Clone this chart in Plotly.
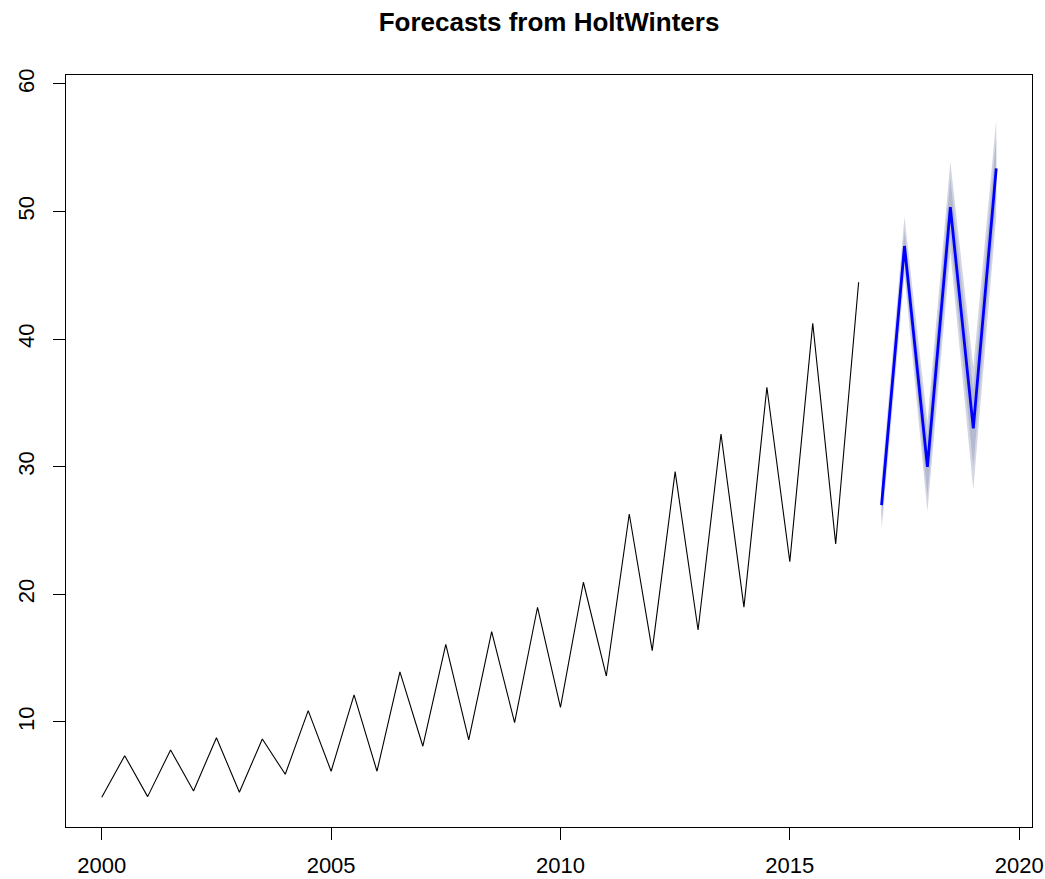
import plotly.graph_objects as go

# Observed semi-annual series 2000.0 .. 2016.5
obs_t = [2000 + 0.5 * i for i in range(34)]
obs_v = [4.10, 7.36, 4.15, 7.81, 4.59, 8.77, 4.49, 8.67, 5.90, 10.89,
         6.14, 12.12, 6.14, 13.92, 8.10, 16.09, 8.60, 17.08, 9.95, 18.99,
         11.15, 20.95, 13.60, 26.30, 15.59, 29.62, 17.21, 32.57, 19.00, 36.23,
         22.56, 41.25, 23.95, 44.46]

# Forecasts 2017.0 .. 2019.5
fc_t = [2017.0, 2017.5, 2018.0, 2018.5, 2019.0, 2019.5]
fc_mean = [27.0, 47.3, 30.0, 50.34, 33.0, 53.39]
lo80 = [25.8, 46.0, 27.7, 48.1, 30.0, 51.0]
hi80 = [28.2, 48.5, 32.3, 52.6, 36.0, 55.8]
lo95 = [25.0, 45.0, 26.5, 46.8, 28.2, 49.6]
hi95 = [29.0, 49.6, 33.5, 53.9, 37.8, 57.2]

x_ticks = [2000, 2005, 2010, 2015, 2020]
y_ticks = [10, 20, 30, 40, 50, 60]

fig = go.Figure()
fig.add_trace(go.Scatter(x=fc_t + fc_t[::-1], y=hi95 + lo95[::-1], fill="toself",
                         fillcolor="#D3D6E2", line=dict(width=0), mode="lines",
                         hoverinfo="skip", showlegend=False))
fig.add_trace(go.Scatter(x=fc_t + fc_t[::-1], y=hi80 + lo80[::-1], fill="toself",
                         fillcolor="#B5BAD0", line=dict(width=0), mode="lines",
                         hoverinfo="skip", showlegend=False))
fig.add_trace(go.Scatter(x=obs_t, y=obs_v, mode="lines",
                         line=dict(color="black", width=1.1), showlegend=False))
fig.add_trace(go.Scatter(x=fc_t, y=fc_mean, mode="lines",
                         line=dict(color="#0000FF", width=2.8), showlegend=False))

axis_common = dict(showgrid=False, zeroline=False, showline=True, linecolor="black",
                   linewidth=1, mirror=True, ticks="outside", ticklen=12,
                   tickcolor="black", tickwidth=1, automargin=False,
                   ticklabeloverflow="allow",
                   tickfont=dict(family="Liberation Sans, Arial", size=22, color="black"))

fig.update_layout(
    width=1045, height=879,
    paper_bgcolor="white", plot_bgcolor="white",
    margin=dict(l=66, r=13, t=75, b=52),
    title=dict(text="<b>Forecasts from HoltWinters</b>", x=0.5, xref="paper",
               y=0.975, yref="container", yanchor="middle", xanchor="center",
               font=dict(family="Liberation Sans, Arial", size=26, color="black")),
    xaxis=dict(range=[1999.22, 2020.28], tickvals=x_ticks,
               ticklabelstandoff=7, **axis_common),
    yaxis=dict(range=[1.77, 60.7], tickvals=y_ticks, tickangle=-90,
               ticklabelstandoff=10, **axis_common),
)

fig.write_html("out.html",
               config={"displayModeBar": False},
               post_script="document.body.style.margin='0';document.body.style.overflow='hidden';")
